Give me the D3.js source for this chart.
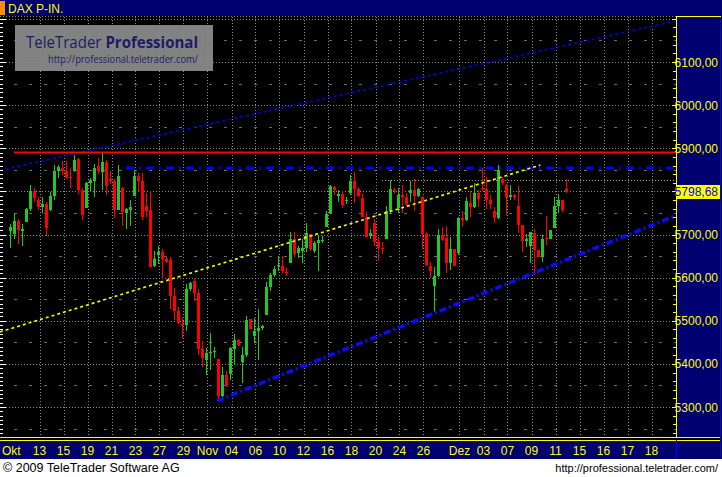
<!DOCTYPE html>
<html><head><meta charset="utf-8">
<script src="https://cdn.jsdelivr.net/npm/d3@7"></script>
<style>
html,body{margin:0;padding:0;background:#fff;}
svg{display:block;font-family:"Liberation Sans",Arial,sans-serif;}
</style>
</head><body>
<svg id="chart" width="722" height="477"></svg>
<script>
// ---------- DATA (3-period candles, DAX, Oct-Dec 2009) ----------
const opens  = [5708,5701,5731,5708,5729,5759,5801,5780,5764,5771,5757,5789,5847,5854,5847,5833,5847,5875,5803,5761,
                5819,5824,5859,5845,5868,5829,5824,5757,5808,5750,5757,5789,5836,5824,5766,5757,5627,5653,5659,5643,
                5641,5557,5523,5493,5490,5574,5592,5564,5435,5409,5425,5428,5411,5326,5374,5377,5435,5455,5404,5421,
                5504,5465,5476,5483,5513,5578,5606,5627,5627,5613,5634,5690,5657,5662,5669,5701,5662,5680,5685,5717,
                5750,5810,5789,5794,5778,5796,5824,5806,5785,5741,5697,5727,5683,5669,5690,5755,5803,5761,5792,5787,
                5796,5803,5789,5787,5701,5627,5581,5604,5699,5692,5634,5666,5657,5738,5734,5773,5764,5796,5808,5806,
                5780,5755,5738,5829,5815,5787,5792,5766,5722,5685,5673,5704,5664,5648,5692,5690,5715,5766,5780,5805.5];
const highs  = [5724,5750,5736,5724,5761,5815,5808,5787,5787,5775,5799,5861,5861,5870,5870,5854,5884,5877,5808,5822,
                5831,5864,5877,5889,5873,5847,5829,5861,5810,5761,5780,5850,5843,5843,5796,5801,5662,5673,5666,5650,
                5648,5576,5532,5506,5585,5590,5597,5574,5453,5437,5472,5439,5411,5393,5384,5439,5469,5458,5439,5511,
                5504,5506,5527,5490,5590,5611,5627,5650,5650,5622,5706,5706,5673,5690,5727,5701,5685,5699,5697,5755,
                5815,5813,5803,5801,5787,5838,5845,5810,5794,5752,5713,5736,5694,5683,5766,5826,5808,5808,5815,5796,
                5824,5829,5808,5789,5706,5636,5625,5713,5717,5720,5694,5666,5741,5755,5787,5801,5819,5803,5854,5833,
                5792,5764,5861,5833,5817,5815,5794,5813,5722,5701,5706,5713,5664,5699,5743,5710,5787,5794,5780,5829];
const lows   = [5669,5690,5678,5673,5729,5755,5775,5757,5750,5697,5755,5780,5831,5838,5829,5808,5845,5794,5734,5761,
                5801,5787,5840,5803,5792,5817,5738,5757,5720,5713,5720,5789,5801,5734,5741,5625,5625,5632,5597,5634,
                5527,5502,5493,5460,5476,5569,5546,5421,5393,5374,5386,5414,5312,5321,5346,5363,5397,5441,5356,5416,
                5481,5448,5409,5479,5513,5569,5601,5615,5611,5604,5634,5648,5646,5634,5659,5662,5657,5615,5680,5717,
                5748,5792,5775,5761,5771,5792,5773,5787,5741,5694,5690,5673,5639,5655,5690,5750,5794,5750,5750,5766,
                5775,5755,5787,5666,5627,5599,5520,5601,5685,5611,5618,5627,5653,5717,5731,5741,5761,5764,5801,5759,
                5759,5727,5736,5815,5745,5780,5780,5704,5659,5671,5634,5606,5648,5636,5676,5690,5715,5750,5752,5796];
const closes = [5717,5731,5710,5713,5759,5801,5785,5764,5771,5715,5789,5847,5857,5847,5833,5831,5873,5803,5745,5819,
                5826,5854,5847,5868,5813,5824,5757,5836,5752,5759,5764,5836,5824,5741,5755,5625,5643,5659,5643,5636,
                5557,5523,5495,5490,5574,5588,5564,5435,5414,5425,5428,5430,5326,5374,5349,5437,5455,5444,5421,5502,
                5481,5476,5483,5488,5578,5606,5620,5629,5615,5611,5690,5655,5669,5669,5704,5666,5680,5687,5687,5748,
                5813,5803,5794,5768,5780,5824,5806,5789,5741,5694,5704,5683,5669,5666,5755,5806,5801,5792,5787,5771,
                5803,5789,5806,5701,5629,5615,5604,5699,5687,5634,5666,5627,5738,5734,5778,5764,5796,5782,5806,5780,
                5771,5738,5850,5819,5787,5792,5787,5722,5685,5690,5706,5664,5648,5690,5690,5710,5766,5780,5757,5798.68];

const priceTicks = [5300,5400,5500,5600,5700,5800,5900,6000,6100];
const xTickLabels = ["Okt","13","15","19","21","23","27","29","Nov","04","06","10","12","16","18","20","24","26",
                     "Dez","03","07","09","11","15","16","17","18"];
const xTickDays   = [0,2,4,6,8,10,12,14,16,18,20,22,24,26,28,30,32,34,37,39,41,43,45,47,49,51,53]; // trading-day slots

const resistanceLevel = 5891;   // red horizontal
const dashDotLevel    = 5854;   // blue dash-dot horizontal
const grayLevel       = 5826;   // grey dotted horizontal
const lastPrice       = 5798.68;
// trend lines: [candleIndex, value] end points
const upperChannel = [[-2.6,5849],[166.4,6195]];
const yellowTrend  = [[-2.6,5474],[132.5,5861]];
const lowerTrend   = [[51.7,5314],[166.4,5744]];

// ---------- LAYOUT ----------
const svg = d3.select("#chart");
const P = {left:0, right:676, top:17, bottom:437};
const y = d3.scaleLinear().domain([5300,6100]).range([407,62]);
const x = d3.scaleLinear().domain([0,139]).range([10.3,566.3]);
const dayToIdx = d => 3*d + 1.3;

// backgrounds
svg.append("rect").attr("x",0).attr("y",0).attr("width",722).attr("height",477).attr("fill","#fff");
svg.append("rect").attr("x",0).attr("y",0).attr("width",722).attr("height",459).attr("fill","#000");
// header
svg.append("rect").attr("x",0).attr("y",0).attr("width",722).attr("height",16).attr("fill","#000070");
svg.append("rect").attr("x",0).attr("y",1).attr("width",5).attr("height",14).attr("fill","#ff8c00");
svg.append("text").attr("x",8).attr("y",13).attr("fill","#ffff00").attr("font-size",12).text("DAX P-IN.");

const g = svg.append("g");
const clip = svg.append("clipPath").attr("id","pc");
clip.append("rect").attr("x",0).attr("y",P.top).attr("width",P.right).attr("height",P.bottom-P.top);
const gp = g.append("g").attr("clip-path","url(#pc)");

// horizontal grid (100s dotted, 50s dashed)
gp.selectAll("line.hg").data(d3.range(5300,6201,100)).join("line")
  .attr("x1",0).attr("x2",P.right).attr("y1",d=>Math.round(y(d))+0.5).attr("y2",d=>Math.round(y(d))+0.5)
  .attr("stroke","#8a8a8a").attr("stroke-dasharray","1,2");
gp.selectAll("line.hm").data(d3.range(5250,6201,100)).join("line")
  .attr("x1",14).attr("x2",P.right).attr("y1",d=>Math.round(y(d))+0.5).attr("y2",d=>Math.round(y(d))+0.5)
  .attr("stroke","#6a6a6a").attr("stroke-dasharray","3,12");
// vertical grid
gp.selectAll("line.vg").data(xTickDays.slice(1)).join("line")
  .attr("x1",d=>Math.round(x(dayToIdx(d)))+0.5).attr("x2",d=>Math.round(x(dayToIdx(d)))+0.5)
  .attr("y1",P.top).attr("y2",P.bottom)
  .attr("stroke","#8a8a8a").attr("stroke-dasharray","1,2");

// left edge ticks
g.selectAll("rect.lt").data(d3.range(5230,6210,10)).join("rect")
  .attr("x",0).attr("y",d=>Math.round(y(d))).attr("height",1)
  .attr("width",d=>d%100===0?6:3).attr("fill","#fff");

// logo box
const logo = g.append("g");
logo.append("rect").attr("x",15).attr("y",25).attr("width",198).attr("height",46).attr("fill","#8c8c8c").attr("opacity",0.93);
const lt = logo.append("text").attr("x",26).attr("y",48).attr("font-size",16.5).attr("fill","#1c1c64")
  .attr("font-family","'Open Sans','DejaVu Sans',sans-serif")
  .attr("textLength",172).attr("lengthAdjust","spacingAndGlyphs");
lt.append("tspan").text("TeleTrader ");
lt.append("tspan").attr("font-weight","bold").text("Professional");
logo.append("text").attr("x",48).attr("y",63).attr("font-size",10).attr("fill","#1c1c64")
  .attr("font-family","'Open Sans','DejaVu Sans',sans-serif")
  .attr("textLength",150).attr("lengthAdjust","spacingAndGlyphs").text("http://professional.teletrader.com/");

// line generator in data space
const lineGen = d3.line().x(d=>x(d[0])).y(d=>y(d[1]));

// upper blue dotted channel
gp.append("path").attr("d",lineGen(upperChannel)).attr("fill","none")
  .attr("stroke","#0000e6").attr("stroke-width",1.6).attr("stroke-dasharray","3,3");
// red resistance
gp.append("line").attr("x1",x(0.9)).attr("x2",P.right).attr("y1",Math.round(y(resistanceLevel))+0.5).attr("y2",Math.round(y(resistanceLevel))+0.5)
  .attr("stroke","#ff0000").attr("stroke-width",2);
// blue dash-dot
gp.append("line").attr("x1",x(28.9)).attr("x2",P.right).attr("y1",y(dashDotLevel)).attr("y2",y(dashDotLevel))
  .attr("stroke","#0000ff").attr("stroke-width",3).attr("stroke-dasharray","8,5,2,5");
// grey dotted level
gp.append("line").attr("x1",x(92.9)).attr("x2",P.right).attr("y1",Math.round(y(grayLevel))+0.5).attr("y2",Math.round(y(grayLevel))+0.5)
  .attr("stroke","#b0b0b0").attr("stroke-dasharray","1,2");

// candles
const candles = opens.map((o,i)=>({i,o,h:highs[i],l:lows[i],c:closes[i]}));
const col = d => d.c>=d.o ? "#20c820" : "#ff0000";
gp.selectAll("rect.wick").data(candles).join("rect")
  .attr("x",d=>Math.round(x(d.i))).attr("width",1)
  .attr("y",d=>Math.round(y(d.h)))
  .attr("height",d=>Math.max(1,Math.round(y(d.l))-Math.round(y(d.h))))
  .attr("fill",col);
gp.selectAll("rect.body").data(candles).join("rect")
  .attr("x",d=>Math.round(x(d.i))-1).attr("width",3)
  .attr("y",d=>Math.round(y(Math.max(d.o,d.c))))
  .attr("height",d=>Math.max(1,Math.round(y(Math.min(d.o,d.c)))-Math.round(y(Math.max(d.o,d.c)))))
  .attr("fill",col);

// yellow dotted trend
gp.append("path").attr("d",lineGen(yellowTrend)).attr("fill","none")
  .attr("stroke","#ffff00").attr("stroke-width",1.6).attr("stroke-dasharray","3,3");
// lower blue thick trend
gp.append("path").attr("d",lineGen(lowerTrend)).attr("fill","none")
  .attr("stroke","#0a0aff").attr("stroke-width",3.5).attr("stroke-dasharray","7,3,2,3");

// top border dotted
g.append("line").attr("x1",0).attr("x2",P.right).attr("y1",16.5).attr("y2",16.5).attr("stroke","#8a8a8a").attr("stroke-dasharray","1,2");

// ---------- RIGHT AXIS ----------
svg.append("rect").attr("x",677).attr("y",17).attr("width",43).attr("height",421).attr("fill","#000070");
svg.append("line").attr("x1",676.5).attr("x2",676.5).attr("y1",16).attr("y2",438).attr("stroke","#ffff00");
svg.append("line").attr("x1",676).attr("x2",721).attr("y1",16.5).attr("y2",16.5).attr("stroke","#ffff00");
svg.append("line").attr("x1",720.5).attr("x2",720.5).attr("y1",17).attr("y2",459).attr("stroke","#0000ff");
svg.selectAll("rect.rt").data(d3.range(5240,6201,20)).join("rect")
  .attr("x",d=>d%100===0?672:673).attr("width",d=>d%100===0?4:3)
  .attr("y",d=>Math.round(y(d))).attr("height",1).attr("fill","#ffff00");
const fmt = v => d3.format(".2f")(v).replace(".",",");
svg.selectAll("text.yl").data(priceTicks).join("text")
  .attr("x",718).attr("y",d=>y(d)+4.5).attr("text-anchor","end")
  .attr("font-size",12).attr("fill","#ffff00").text(fmt);
// last price tag
svg.append("rect").attr("x",677).attr("y",Math.round(y(lastPrice))-7).attr("width",43).attr("height",14).attr("fill","#ffff00");
svg.append("text").attr("x",718).attr("y",y(lastPrice)+4.5).attr("text-anchor","end")
  .attr("font-size",12).attr("fill","#0000ff").text(fmt(lastPrice));

// ---------- X AXIS ----------
svg.append("rect").attr("x",0).attr("y",440).attr("width",720).attr("height",19).attr("fill","#000070");
svg.append("line").attr("x1",0).attr("x2",720).attr("y1",437.5).attr("y2",437.5).attr("stroke","#ffff00");
svg.append("line").attr("x1",0).attr("x2",720).attr("y1",440.5).attr("y2",440.5).attr("stroke","#ffff00");
svg.append("line").attr("x1",676.5).attr("x2",676.5).attr("y1",440).attr("y2",459).attr("stroke","#0000ff");
svg.selectAll("text.xl").data(xTickLabels).join("text")
  .attr("x",(d,k)=>k===0?2:x(dayToIdx(xTickDays[k])))
  .attr("text-anchor",(d,k)=>k===0?"start":"middle")
  .attr("y",455).attr("font-size",12).attr("fill","#ffff00").text(d=>d);

// ---------- FOOTER ----------
svg.append("text").attr("x",3).attr("y",472).attr("font-size",12.5).attr("fill","#000").text("© 2009 TeleTrader Software AG");
svg.append("text").attr("x",718).attr("y",472).attr("text-anchor","end").attr("font-size",11).attr("fill","#000")
  .text("http://professional.teletrader.com/");
</script>
</body></html>
